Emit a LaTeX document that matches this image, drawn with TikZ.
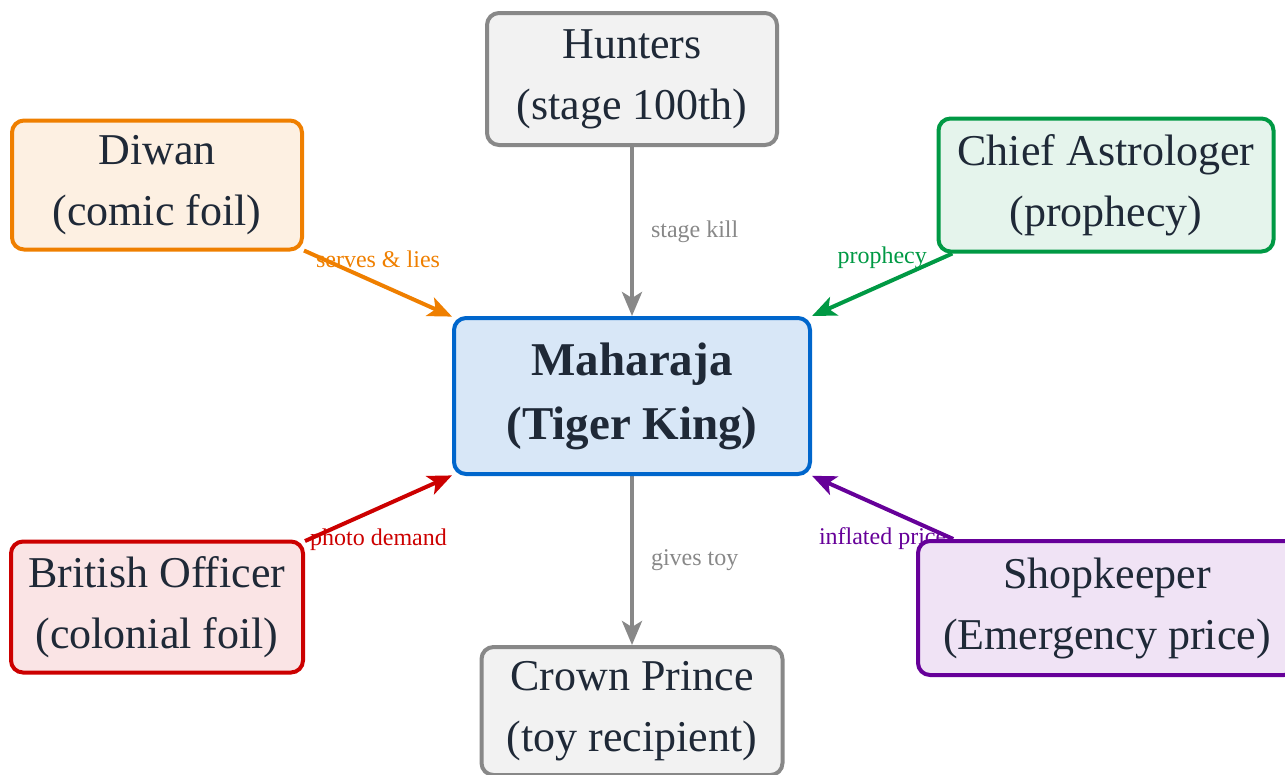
\documentclass[tikz,border=0pt]{standalone}
\usepackage{fontspec}
\setmainfont{Liberation Serif}
\usetikzlibrary{arrows.meta,backgrounds}
\definecolor{ink}{HTML}{1F2937}
\definecolor{grayb}{HTML}{888888}
\definecolor{grayf}{HTML}{F2F2F2}
\definecolor{blueb}{HTML}{0066CC}
\definecolor{bluef}{HTML}{D8E7F7}
\definecolor{orangeb}{HTML}{EF7F00}
\definecolor{orangef}{HTML}{FDF0E2}
\definecolor{greenb}{HTML}{009944}
\definecolor{greenf}{HTML}{E5F4EC}
\definecolor{redb}{HTML}{CC0000}
\definecolor{redf}{HTML}{FAE4E5}
\definecolor{purpleb}{HTML}{660099}
\definecolor{purplef}{HTML}{F0E3F5}
\begin{document}
\begin{tikzpicture}[x=1pt,y=-1pt,
  box/.style={draw, line width=4pt, rounded corners=12pt, inner sep=0pt, align=center, text=ink, font=\fontsize{44}{61}\selectfont},
  conn/.style={line width=4pt, -{Stealth[length=24pt,width=20pt,inset=6pt]}},
  lbl/.style={font=\fontsize{24}{26}\selectfont, inner sep=0pt}]
\useasboundingbox (0,0) rectangle (1285,774);
\clip (0,0) rectangle (1285,774);

\node[box, draw=grayb, fill=grayf, minimum width=290pt, minimum height=132pt] (hunters) at (632,79) {Hunters\\(stage 100th)};
\node[box, draw=orangeb, fill=orangef, minimum width=290pt, minimum height=129pt] (diwan) at (157,185) {Diwan\\(comic foil)};
\node[box, draw=greenb, fill=greenf, minimum width=335pt, minimum height=133pt] (astro) at (1106,185) {Chief Astrologer\\(prophecy)};
\node[box, draw=blueb, fill=bluef, minimum width=356pt, minimum height=156pt, font=\fontsize{47}{64}\selectfont\bfseries] (king) at (632,396) {Maharaja\\(Tiger King)};
\node[box, draw=redb, fill=redf, minimum width=292pt, minimum height=131pt] (brit) at (157,607) {British Officer\\(colonial foil)};
\node[box, draw=purpleb, fill=purplef, minimum width=378pt, minimum height=134pt] (shop) at (1107,608) {Shopkeeper\\(Emergency price)};
\node[box, draw=grayb, fill=grayf, minimum width=301pt, minimum height=128pt] (prince) at (632,711) {Crown Prince\\(toy recipient)};

\begin{scope}[on background layer]
\draw[conn, grayb] (hunters) -- node[lbl, text=grayb, anchor=west, xshift=17pt] {stage kill} (king);
\draw[conn, orangeb] (diwan) -- node[lbl, text=orangeb, yshift=24pt] {serves \& lies} (king);
\draw[conn, greenb] (astro) -- node[lbl, text=greenb, yshift=27pt] {prophecy} (king);
\draw[conn, redb] (brit) -- node[lbl, text=redb, yshift=-32pt] {photo demand} (king);
\draw[conn, purpleb] (shop) -- node[lbl, text=purpleb, yshift=-31pt] {inflated price} (king);
\draw[conn, grayb] (king) -- node[lbl, text=grayb, anchor=west, xshift=17pt] {gives toy} (prince);
\end{scope}
\end{tikzpicture}
\end{document}
